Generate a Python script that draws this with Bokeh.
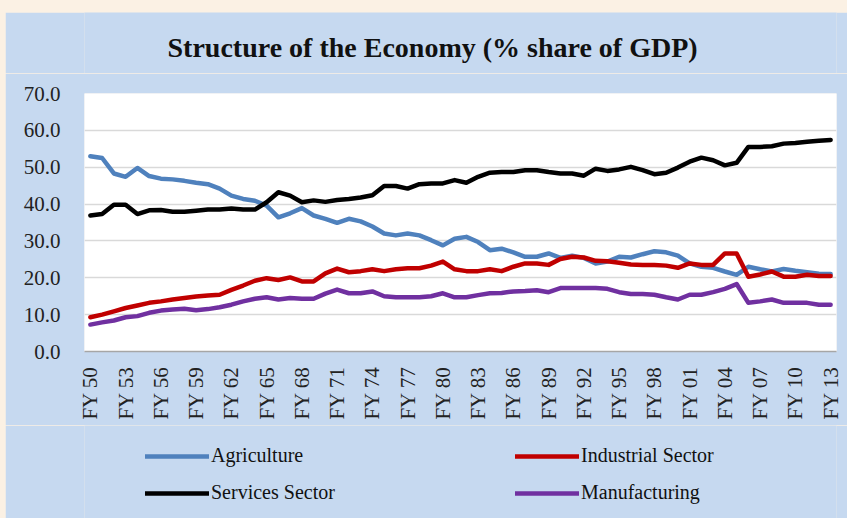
import math
from bokeh.plotting import figure
from bokeh.models import (Range1d, FixedTicker, Legend, LegendItem, Label)
from bokeh.layouts import column
from bokeh.embed import file_html
from bokeh.resources import INLINE

years = ["FY 50", "FY 51", "FY 52", "FY 53", "FY 54", "FY 55", "FY 56", "FY 57", "FY 58", "FY 59",
         "FY 60", "FY 61", "FY 62", "FY 63", "FY 64", "FY 65", "FY 66", "FY 67", "FY 68", "FY 69",
         "FY 70", "FY 71", "FY 72", "FY 73", "FY 74", "FY 75", "FY 76", "FY 77", "FY 78", "FY 79",
         "FY 80", "FY 81", "FY 82", "FY 83", "FY 84", "FY 85", "FY 86", "FY 87", "FY 88", "FY 89",
         "FY 90", "FY 91", "FY 92", "FY 93", "FY 94", "FY 95", "FY 96", "FY 97", "FY 98", "FY 99",
         "FY 00", "FY 01", "FY 02", "FY 03", "FY 04", "FY 05", "FY 06", "FY 07", "FY 08", "FY 09",
         "FY 10", "FY 11", "FY 12", "FY 13"]

agriculture = [53.0, 52.5, 48.3, 47.4, 49.8, 47.6, 46.9, 46.7, 46.3, 45.8,
               45.4, 44.2, 42.3, 41.4, 40.9, 39.6, 36.4, 37.5, 38.9, 36.9,
               36.0, 34.9, 36.0, 35.3, 33.9, 32.0, 31.5, 32.0, 31.5, 30.2,
               28.8, 30.6, 31.1, 29.7, 27.5, 27.9, 26.9, 25.7, 25.7, 26.6,
               25.4, 26.0, 25.4, 23.9, 24.4, 25.7, 25.5, 26.4, 27.2, 26.9,
               26.0, 23.9, 23.0, 22.7, 21.7, 20.8, 23.0, 22.3, 21.7, 22.4,
               21.9, 21.5, 21.1, 21.0]

industrial = [9.3, 10.0, 10.9, 11.8, 12.5, 13.2, 13.6, 14.1, 14.5, 14.9,
              15.2, 15.4, 16.7, 17.9, 19.2, 19.9, 19.4, 20.1, 19.0, 19.0,
              21.2, 22.5, 21.5, 21.8, 22.3, 21.8, 22.3, 22.6, 22.6, 23.3,
              24.4, 22.3, 21.8, 21.8, 22.3, 21.8, 23.0, 23.9, 23.9, 23.5,
              25.1, 25.7, 25.5, 24.6, 24.5, 24.1, 23.6, 23.5, 23.5, 23.3,
              22.7, 23.9, 23.5, 23.5, 26.6, 26.6, 20.3, 20.9, 21.7, 20.3,
              20.3, 20.8, 20.5, 20.5]

services = [36.9, 37.3, 39.8, 39.8, 37.3, 38.3, 38.4, 37.9, 37.9, 38.2,
            38.5, 38.5, 38.8, 38.5, 38.5, 40.5, 43.2, 42.3, 40.5, 41.0,
            40.6, 41.1, 41.4, 41.8, 42.4, 44.9, 44.9, 44.2, 45.4, 45.6,
            45.6, 46.5, 45.8, 47.4, 48.5, 48.7, 48.7, 49.2, 49.2, 48.7,
            48.3, 48.3, 47.7, 49.6, 49.0, 49.4, 50.1, 49.2, 48.1, 48.5,
            49.9, 51.5, 52.6, 51.9, 50.5, 51.2, 55.5, 55.5, 55.7, 56.4,
            56.6, 56.9, 57.2, 57.4]

manufacturing = [7.3, 7.9, 8.4, 9.3, 9.6, 10.5, 11.1, 11.4, 11.6, 11.2,
                 11.5, 12.0, 12.7, 13.6, 14.3, 14.7, 14.1, 14.5, 14.3, 14.3,
                 15.7, 16.8, 15.8, 15.8, 16.3, 15.0, 14.7, 14.7, 14.7, 15.0,
                 15.8, 14.7, 14.7, 15.3, 15.8, 15.9, 16.3, 16.4, 16.6, 16.1,
                 17.2, 17.2, 17.2, 17.2, 17.0, 16.1, 15.6, 15.6, 15.4, 14.7,
                 14.1, 15.4, 15.4, 16.1, 17.0, 18.3, 13.2, 13.6, 14.1, 13.2,
                 13.2, 13.2, 12.7, 12.7]

series_names = ["Agriculture", "Industrial Sector", "Services Sector", "Manufacturing"]
colors = ["#4f81bd", "#c00000", "#000000", "#7030a0"]
all_series = [agriculture, industrial, services, manufacturing]
title_text = "Structure  of the Economy  (% share of GDP)"

x = list(range(len(years)))
SERIF = "Liberation Serif"
BLUE_BG = "#c6d9f0"


def strip(height, margin):
    f = figure(width=842, height=height, output_backend="svg", toolbar_location=None,
               x_range=Range1d(-0.5, len(years) - 0.5), y_range=Range1d(-2, -1),
               min_border=0, min_border_left=0, min_border_right=0,
               min_border_top=0, min_border_bottom=0)
    f.margin = margin
    f.axis.visible = False
    f.grid.visible = False
    f.outline_line_color = None
    f.border_fill_color = BLUE_BG
    f.background_fill_color = BLUE_BG
    return f

# ---------------- title strip ----------------
pt = strip(61, (12, 0, 0, 5))
pt.add_layout(Label(x=83, y=26, x_units="screen", y_units="screen", text=title_text,
                    text_align="left", text_baseline="middle",
                    text_font=SERIF, text_font_style="bold", text_font_size="28px",
                    text_color="#111111"))

# ---------------- main chart ----------------
p = figure(width=842, height=352, output_backend="svg", toolbar_location=None,
           x_range=Range1d(-0.5, len(years) - 0.5), y_range=Range1d(0, 70),
           min_border_left=79, min_border_right=11, min_border_top=20, min_border_bottom=74)
p.margin = (0, 0, 0, 5)
p.border_fill_color = BLUE_BG
p.background_fill_color = "white"
p.outline_line_color = None

for ys, c in zip(all_series, colors):
    p.line(x, ys, line_color=c, line_width=4.5, line_join="round", line_cap="round")

p.xaxis.ticker = FixedTicker(ticks=list(range(0, len(years), 3)))
p.xaxis.major_label_overrides = {i: years[i] for i in range(0, len(years), 3)}
p.xaxis.major_label_orientation = math.pi / 2
p.xaxis.major_label_text_font = SERIF
p.xaxis.major_label_text_font_size = "21px"
p.xaxis.major_label_text_color = "#222222"
p.xaxis.major_label_standoff = 9
p.xaxis.major_tick_line_color = None
p.xaxis.minor_tick_line_color = None
p.xaxis.axis_line_color = "#a6a6a6"
p.xaxis.axis_line_width = 1.5

p.yaxis.ticker = FixedTicker(ticks=[0, 10, 20, 30, 40, 50, 60, 70])
p.yaxis.major_label_overrides = {v: f"{v:.1f}" for v in [0, 10, 20, 30, 40, 50, 60, 70]}
p.yaxis.major_label_text_font = SERIF
p.yaxis.major_label_text_font_size = "21px"
p.yaxis.major_label_text_color = "#222222"
p.yaxis.major_label_standoff = 18
p.yaxis.major_tick_line_color = None
p.yaxis.minor_tick_line_color = None
p.yaxis.axis_line_color = None

p.xgrid.grid_line_color = None
p.ygrid.grid_line_color = "#d9d9d9"
p.ygrid.grid_line_width = 1.5

# ---------------- legend strip ----------------
pl = strip(93, (0, 0, 0, 5))
# same series drawn in the legend strip (all values lie outside its range, so only
# the legend keys are visible)
leg_r = []
for ys, c in zip(all_series, colors):
    leg_r.append(pl.line(x, ys, line_color=c, line_width=4.5, line_cap="round"))

def make_legend(idx, loc):
    return Legend(items=[LegendItem(label=series_names[i], renderers=[leg_r[i]]) for i in idx],
                  location=loc, orientation="vertical",
                  background_fill_alpha=0, border_line_color=None,
                  label_text_font=SERIF, label_text_font_size="20px",
                  label_text_color="#111111",
                  glyph_width=64, glyph_height=20, label_height=20,
                  label_standoff=2, spacing=14, padding=0, margin=0)

pl.add_layout(make_legend([0, 2], (61, 14)))
pl.add_layout(make_legend([1, 3], (431, 14)))

root = column(pt, p, pl, spacing=0, styles={"background-color": "#fbf1e4"}, width=847, height=518)
open("out.html", "w").write(file_html(root, INLINE))
